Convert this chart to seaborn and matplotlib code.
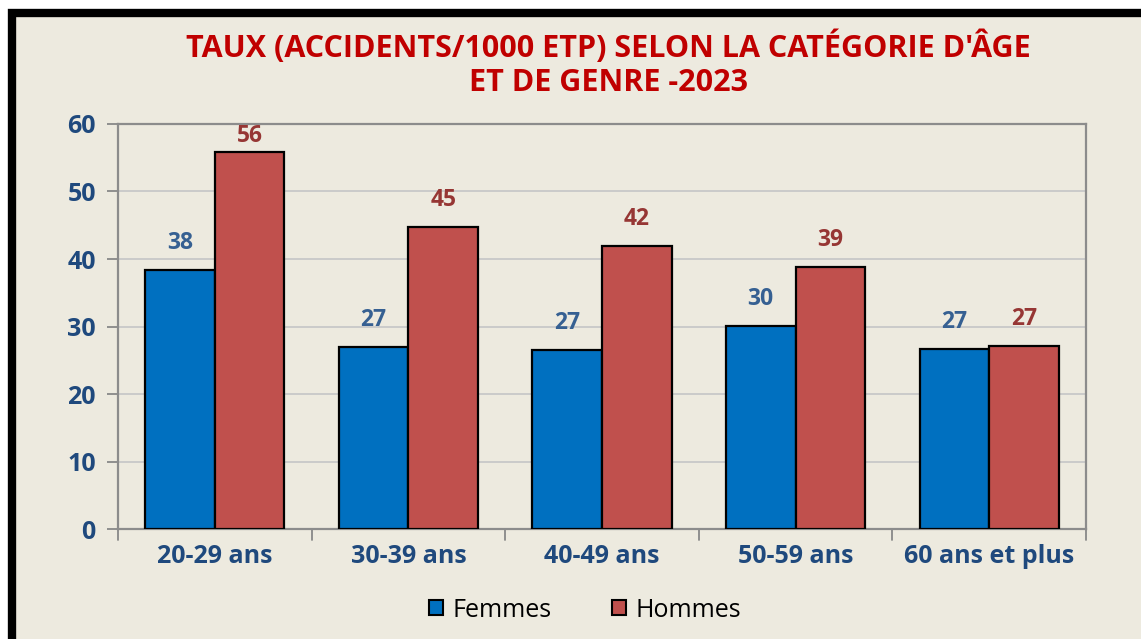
import matplotlib
matplotlib.use("Agg")
import matplotlib.pyplot as plt
import seaborn as sns
import pandas as pd
from matplotlib.patches import Rectangle, Patch

categories = ["20-29 ans", "30-39 ans", "40-49 ans", "50-59 ans", "60 ans et plus"]
femmes = [38.3, 27.0, 26.5, 30.1, 26.7]
hommes = [55.9, 44.7, 41.9, 38.8, 27.1]
femmes_labels = ["38", "27", "27", "30", "27"]
hommes_labels = ["56", "45", "42", "39", "27"]
series = ["Femmes", "Hommes"]
yticks = [0, 10, 20, 30, 40, 50, 60]
title = "TAUX (ACCIDENTS/1000 ETP) SELON LA CATÉGORIE D'ÂGE\nET DE GENRE -2023"

df = pd.DataFrame({
    "cat": categories * 2,
    "genre": [series[0]] * len(categories) + [series[1]] * len(categories),
    "val": femmes + hommes,
})

sns.set_theme(style="white")
FONT = "Open Sans"
plt.rcParams["font.family"] = [FONT, "DejaVu Sans"]

BG = "#EDEADF"
C_F = "#0070C0"
C_H = "#C0504D"
TXT = "#1F497D"

fig = plt.figure(figsize=(11.41, 6.39), dpi=100)
fig.patch.set_facecolor("white")
# chart background with black frame (left/top visible)
frame = Rectangle((0.0105, -0.05), 1.05, 1.03, transform=fig.transFigure,
                  facecolor=BG, edgecolor="black", linewidth=6, zorder=-5)
fig.patches.append(frame)

ax = fig.add_axes([0.1034, 0.172, 0.8484, 0.634])
ax.set_zorder(1)
ax.set_facecolor(BG)
sns.barplot(data=df, x="cat", y="val", hue="genre", palette=[C_F, C_H],
            width=0.72, edgecolor="black", linewidth=1.6, saturation=1,
            ax=ax, legend=False, zorder=3)

ax.set_ylim(0, 60)
ax.set_xlim(-0.5, len(categories) - 0.5)
ax.set_yticks(yticks)
ax.set_yticklabels([str(t) for t in yticks], fontsize=18, fontweight="bold", color=TXT)
ax.yaxis.grid(True, color="#C8C8C8", linewidth=1.3, zorder=0)
ax.set_axisbelow(True)
ax.tick_params(axis="y", direction="out", length=8, width=1.3, color="#888888", pad=8, left=True)
ax.set_xticks(range(len(categories)))
ax.set_xticklabels(categories, fontsize=18, fontweight="bold", color=TXT)
ax.tick_params(axis="x", length=0, pad=11)
# category boundary ticks
for b in [i - 0.5 for i in range(len(categories) + 1)]:
    ax.plot([b, b], [0, -1.6], color="#888888", linewidth=1.3, clip_on=False, zorder=1)
for s in ax.spines.values():
    s.set_color("#8C8C8C")
    s.set_linewidth(1.6)
ax.set_xlabel("")
ax.set_ylabel("")

off = 0.72 / 4
for i in range(len(categories)):
    ax.text(i - off, min(femmes[i] + 4.0, 58.2), femmes_labels[i], ha="center", va="center",
            fontsize=16.5, fontweight="bold", color="#366092", zorder=5)
    ax.text(i + off, min(hommes[i] + 4.0, 58.2), hommes_labels[i], ha="center", va="center",
            fontsize=16.5, fontweight="bold", color="#963634", zorder=5)

fig.text(0.533, 0.9, title, ha="center", va="center", fontsize=22, fontweight="bold",
         color="#C00000", linespacing=1.17)

handles = [Patch(facecolor=C_F, edgecolor="black", linewidth=1.5, label=series[0]),
           Patch(facecolor=C_H, edgecolor="black", linewidth=1.5, label=series[1])]
fig.legend(handles=handles, loc="center", bbox_to_anchor=(0.513, 0.045), ncol=2, frameon=False,
           fontsize=18, labelcolor="black", handlelength=0.55, handleheight=0.55,
           handletextpad=0.4, columnspacing=2.4)

fig.savefig("out.png", dpi=100, facecolor=fig.get_facecolor())
